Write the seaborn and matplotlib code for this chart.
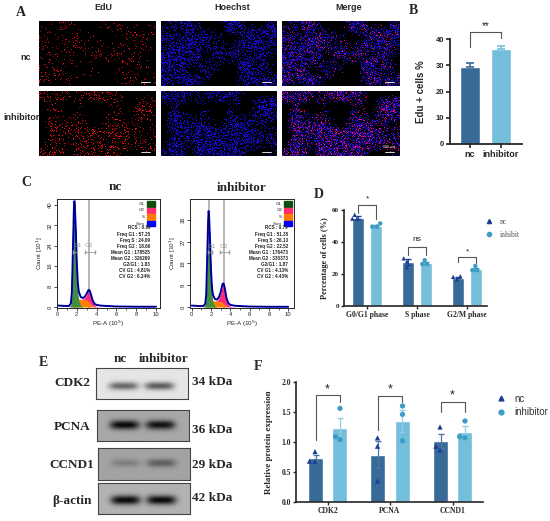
import numpy as np
import pandas as pd
import matplotlib
matplotlib.use("Agg")
import matplotlib.pyplot as plt
import seaborn as sns
from matplotlib.lines import Line2D
from matplotlib.patches import Rectangle

W, H = 550, 521

# ---- B: EdU positive cells
edu_groups = ["nc", "inhibitor"]
edu_mean = [29.4, 36.2]
edu_sem = [1.4, 1.0]

# ---- C: flow cytometry fits, Count [10^1] vs PE-A (10^5)
hist_x = [0.0, 0.4, 0.8, 1.2, 1.4, 1.5, 1.6, 1.7, 1.75, 1.8, 1.9, 2.0, 2.1, 2.2, 2.4, 2.6,
          2.8, 3.0, 3.1, 3.2, 3.3, 3.4, 3.5, 3.6, 3.8, 4.0, 4.5, 5.0, 6.0, 8.0, 10.0]
debris = [0.6, 0.5, 0.4, 0.4, 0.4, 0.4, 0.4, 0.4, 0.4, 0.4, 0.4, 0.4, 0.4, 0.4, 0.4, 0.4,
          0.4, 0.4, 0.4, 0.4, 0.4, 0.4, 0.4, 0.4, 0.5, 0.6, 0.5, 0.4, 0.2, 0.1, 0.1]
nc_g1 = [0, 0, 0, 0, 1.0, 5, 20, 36, 39, 37, 27, 14, 6, 2.5, 0.5, 0,
         0, 0, 0, 0, 0, 0, 0, 0, 0, 0, 0, 0, 0, 0, 0]
nc_s = [0, 0, 0, 0, 0, 0.2, 0.8, 1.6, 2.0, 2.4, 2.8, 3.0, 3.1, 3.1, 3.0, 2.9,
        2.8, 2.6, 2.4, 2.1, 1.6, 1.1, 0.7, 0.4, 0.1, 0, 0, 0, 0, 0, 0]
nc_g2 = [0, 0, 0, 0, 0, 0, 0, 0, 0, 0, 0, 0, 0, 0, 0, 0.2,
         0.8, 2.2, 3.3, 4.2, 4.4, 3.8, 2.8, 1.8, 0.6, 0.2, 0, 0, 0, 0, 0]
inh_g1 = [0, 0, 0, 0, 0.9, 4.5, 19, 34, 37.5, 35, 25, 12, 5, 2, 0.4, 0,
          0, 0, 0, 0, 0, 0, 0, 0, 0, 0, 0, 0, 0, 0, 0]
inh_s = [0, 0, 0, 0, 0, 0.2, 0.7, 1.3, 1.7, 2.0, 2.3, 2.5, 2.6, 2.6, 2.5, 2.4,
         2.3, 2.2, 2.0, 1.7, 1.3, 0.9, 0.6, 0.3, 0.1, 0, 0, 0, 0, 0, 0]
inh_g2 = [0, 0, 0, 0, 0, 0, 0, 0, 0, 0, 0, 0, 0, 0, 0, 0.3,
          1.2, 3.5, 5.6, 7.5, 8.0, 7.0, 5.0, 3.0, 1.0, 0.3, 0, 0, 0, 0, 0]
nc_stats = ["RCS : 0.99", "Freq G1 : 57.25", "Freq S : 24.09", "Freq G2 : 18.66",
            "Mean G1 : 178525", "Mean G2 : 326269", "G2/G1 : 1.83", "CV G1 : 4.81%", "CV G2 : 6.24%"]
inh_stats = ["RCS : 0.79", "Freq G1 : 51.35", "Freq S : 26.13", "Freq G2 : 22.52",
             "Mean G1 : 176473", "Mean G2 : 330373", "G2/G1 : 1.87", "CV G1 : 4.13%", "CV G2 : 4.43%"]
fit_names = ["G1", "G2", "S", "Sum"]

# ---- D: cell cycle distribution
phases = ["G0/G1 phase", "S phase", "G2/M phase"]
phase_groups = ["nc", "inhibit"]
phase_mean_nc = [55.2, 27.5, 17.8]
phase_mean_inh = [50.2, 26.8, 23.2]
phase_sem_nc = [0.8, 1.6, 0.6]
phase_sem_inh = [0.6, 0.7, 0.8]
phase_pts_nc = [[57.0, 54.6, 54.6], [29.8, 24.2, 27.8], [16.6, 18.6, 18.2]]
phase_pts_inh = [[51.6, 49.6, 49.6], [28.6, 26.2, 26.2], [25.0, 22.4, 22.4]]
phase_sig = ["*", "ns", "*"]

# ---- E: western blots
blot_proteins = ["CDK2", "PCNA", "CCND1", "β-actin"]
blot_kda = ["34 kDa", "36 kDa", "29 kDa", "42 kDa"]
blot_band_nc = [0.55, 0.95, 0.22, 0.95]
blot_band_inh = [0.6, 0.9, 0.42, 0.95]
blot_background = [0.90, 0.66, 0.64, 0.70]

# ---- F: relative protein expression
proteins = ["CDK2", "PCNA", "CCND1"]
prot_groups = ["nc", "inhibitor"]
prot_mean_nc = [0.73, 0.79, 1.02]
prot_mean_inh = [1.23, 1.35, 1.17]
prot_sem_nc = [0.06, 0.22, 0.12]
prot_sem_inh = [0.17, 0.18, 0.09]
prot_pts_nc = [[0.84, 0.68, 0.68], [1.07, 0.93, 0.35], [1.25, 0.87, 0.93]]
prot_pts_inh = [[1.56, 1.04, 1.09], [1.60, 1.46, 1.02], [1.35, 1.07, 1.09]]
prot_sig = ["*", "*", "*"]

NC_BAR, INH_BAR = "#386a98", "#73bfdb"
NC_PT, INH_PT = "#1c3f94", "#3d9cc6"
SANS = ["Liberation Sans", "DejaVu Sans"]
SERIF = ["Liberation Serif", "DejaVu Serif"]

sns.set_style("ticks")
plt.rcParams["font.family"] = SANS
plt.rcParams["axes.linewidth"] = 1.0

fig = plt.figure(figsize=(W / 100, H / 100), dpi=100)


def axes_px(l, t, r, b):
    return fig.add_axes([l / W, 1 - b / H, (r - l) / W, (b - t) / H])


def text_px(x, y, s, **kw):
    fig.text(x / W, 1 - y / H, s, **kw)


def ylabel_at(ax, xpx):
    pos = ax.get_position()
    ax.yaxis.set_label_coords((xpx / W - pos.x0) / pos.width, 0.5)


def bracket(ax, x0, x1, y0, y1, top, label, fs, dy):
    ax.plot([x0, x0, x1, x1], [y0, top, top, y1], color="#555555", lw=0.8, clip_on=False)
    ax.text((x0 + x1) / 2, top + dy, label, ha="center", va="center", fontsize=fs,
            color="#222222", clip_on=False)


# panel letters
for lab, x, y in [("A", 21, 12), ("B", 413, 10), ("C", 26, 183), ("D", 319, 194),
                  ("E", 43, 362), ("F", 258, 366)]:
    text_px(x, y, lab, family=SERIF, weight="bold", size=10, ha="center", va="center")

# ---------------- A: fluorescence images (texture only)
rng = np.random.default_rng(11)


def smooth_field(h, w, gh=5, gw=9):
    low = rng.random((gh, gw))
    yi = np.linspace(0, gh - 1, h)
    xi = np.linspace(0, gw - 1, w)
    y0 = np.clip(np.floor(yi).astype(int), 0, gh - 2)
    x0 = np.clip(np.floor(xi).astype(int), 0, gw - 2)
    fy = (yi - y0)[:, None]
    fx = (xi - x0)[None, :]
    a = low[y0][:, x0]
    b = low[y0][:, x0 + 1]
    c = low[y0 + 1][:, x0]
    d = low[y0 + 1][:, x0 + 1]
    return a * (1 - fy) * (1 - fx) + b * (1 - fy) * fx + c * fy * (1 - fx) + d * fy * fx


col_lr = [(39, 156), (161, 277), (282, 400)]
row_tb = [(21, 86), (91, 156)]
edu_density = [0.09, 0.18]
for r, (t, b) in enumerate(row_tb):
    h, w = b - t, col_lr[0][1] - col_lr[0][0]
    mask = np.clip((smooth_field(h, w) - 0.2) / 0.35, 0, 1)
    hoe = (rng.random((h, w)) < 0.5 * mask) * rng.uniform(0.35, 1.0, (h, w))
    edu = (rng.random((h, w)) < edu_density[r] * mask) * rng.uniform(0.5, 1.0, (h, w))
    imgs = [
        np.dstack([edu, 0.06 * edu, 0.1 * edu]),
        np.dstack([0.12 * hoe, 0.06 * hoe, hoe]),
        np.dstack([np.maximum(edu, 0.12 * hoe), 0.06 * hoe, np.maximum(0.95 * hoe, 0.6 * edu)]),
    ]
    for c, (l, rr) in enumerate(col_lr):
        ax = axes_px(l, t, rr, b)
        ax.imshow(np.clip(imgs[c], 0, 1), aspect="auto", interpolation="nearest")
        ax.plot([0.87, 0.95], [0.06, 0.06], color="white", lw=0.6, transform=ax.transAxes)
        ax.set_axis_off()
    if r == 1:
        ax.text(0.91, 0.12, "200 μm", color="white", fontsize=2.5, ha="center",
                transform=ax.transAxes)

for s, x in zip(["EdU", "Hoechst", "Merge"], [103, 232, 349]):
    text_px(x, 8, s, weight="bold", size=6.5, ha="center", va="center")
text_px(26, 57, "nc", weight="bold", size=6.5, ha="center", va="center")
text_px(21, 117, "inhibitor", weight="bold", size=6.5, ha="center", va="center")

# ---------------- B: EdU+ bar chart
axB = axes_px(450, 39, 522, 144)
sns.barplot(x=edu_groups, y=edu_mean, hue=edu_groups, palette=[NC_BAR, INH_BAR],
            width=0.645, saturation=1, legend=False, ax=axB)
for i, (m, e, c) in enumerate(zip(edu_mean, edu_sem, [NC_BAR, INH_BAR])):
    axB.errorbar(i, m, yerr=[[0], [e]], fmt="none", ecolor=c, elinewidth=1.2,
                 capsize=3, capthick=1.2)
axB.set_xlim(-0.645, 1.68)
axB.set_ylim(0, 40)
axB.set_yticks([0, 10, 20, 30, 40])
sns.despine(ax=axB)
for sp in ["left", "bottom"]:
    axB.spines[sp].set_linewidth(1.3)
axB.tick_params(length=3, width=1.2, pad=1)
axB.tick_params(axis="y", labelsize=5.5)
axB.tick_params(axis="x", labelsize=6.5)
for lbl in axB.get_xticklabels() + axB.get_yticklabels():
    lbl.set_fontweight("bold")
axB.set_ylabel("Edu + cells %", fontsize=7, fontweight="bold")
ylabel_at(axB, 426)
bracket(axB, 0, 1, 36.8, 40.3, 42.7, "**", 7, 2.4)

# ---------------- C: cell cycle histograms
FILL_G1, FILL_S, FILL_G2 = "#3f8f3f", "#ff8000", "#ff2a78"
BOX_COLORS = ["#0d4f0d", "#ff2d6f", "#ff7a00", "#0000ff"]


def flow_panel(ax, g1, s, g2, stats, yticks, ylim, xlim, gates, gate_y, dx):
    x = np.array(hist_x)
    g1, s, g2, deb = np.array(g1), np.array(s), np.array(g2), np.array(debris)
    total = g1 + s + g2 + deb
    ax.fill_between(x, 0, s, color=FILL_S, lw=0)
    ax.fill_between(x, 0, g1, color=FILL_G1, lw=0)
    ax.fill_between(x, s, s + g2, color=FILL_G2, lw=0)
    sns.lineplot(x=x, y=total, color="#0000ff", lw=1.4, ax=ax)
    sns.lineplot(x=x, y=total, color="black", lw=0.5, ax=ax)
    for gx in gates:
        ax.axvline(gx, color="#b0b0b0", lw=1.3, zorder=0.5)
    ax.text(gates[0] + 0.3, gate_y + 1.8, "G1", color="#999999", fontsize=4.5, ha="center")
    ax.text(gates[1], gate_y + 1.8, "G2", color="#999999", fontsize=4.5, ha="center")
    ax.errorbar([gates[1] + 0.1], [gate_y], xerr=[[0.5], [0.5]], fmt="none",
                ecolor="#999999", elinewidth=0.6, capsize=1.5)
    ax.errorbar([gates[0] + 0.05], [gate_y], xerr=[[0.2], [0.2]], fmt="none",
                ecolor="#999999", elinewidth=0.6, capsize=1.5)
    ax.set_xlim(*xlim)
    ax.set_ylim(*ylim)
    ax.set_xticks([0, 2, 4, 6, 8, 10])
    ax.set_xticks(np.arange(1, 11, 2), minor=True)
    ax.set_yticks(yticks)
    ax.tick_params(length=2, width=0.6, labelsize=4.2, pad=1)
    ax.tick_params(which="minor", length=1.2, width=0.5)
    for lbl in ax.get_yticklabels():
        lbl.set_rotation(90)
        lbl.set_va("center")
    for sp in ax.spines.values():
        sp.set_linewidth(0.7)
    ax.set_xlabel("PE-A (10$^5$)", fontsize=4.5, labelpad=1)
    ax.set_ylabel("Count [10$^1$]", fontsize=4.5, labelpad=2)
    for k, (name, col) in enumerate(zip(fit_names, BOX_COLORS)):
        y = 0.93 - 0.06 * k
        ax.add_patch(Rectangle((0.87 + dx, y), 0.08, 0.05, color=col, transform=ax.transAxes))
        ax.text(0.85 + dx, y + 0.025, name, fontsize=3.2, ha="right", va="center",
                transform=ax.transAxes)
    for k, line in enumerate(stats):
        ax.text(0.905 + dx, 0.734 - 0.056 * k, line, fontsize=3.3, ha="right", va="center",
                fontweight="bold", color="#222222", transform=ax.transAxes)


axC1 = axes_px(57, 199, 160, 308)
flow_panel(axC1, nc_g1, nc_s, nc_g2, nc_stats, [0, 8, 16, 24, 32, 40], (-0.4, 42.3),
           (0, 10.4), (1.8, 3.25), 21.6, 0.0)
axC2 = axes_px(190, 199, 294, 308)
flow_panel(axC2, inh_g1, inh_s, inh_g2, inh_stats, [0, 9, 18, 27, 36], (-0.4, 44.6),
           (-0.18, 10.6), (1.8, 3.3), 22.6, 0.035)
text_px(115, 187, "nc", family=SERIF, weight="bold", size=9.5, ha="center", va="center")
text_px(242, 188, "inhibitor", family=SERIF, weight="bold", size=9.5, ha="center", va="center")

# ---------------- D: percentage of cells per phase
axD = axes_px(344, 210, 487, 306)
dfD = pd.DataFrame({"phase": phases * 2,
                    "group": [phase_groups[0]] * 3 + [phase_groups[1]] * 3,
                    "pct": phase_mean_nc + phase_mean_inh})
sns.barplot(data=dfD, x="phase", y="pct", hue="group", hue_order=phase_groups, order=phases,
            palette=[NC_BAR, INH_BAR], width=0.72, gap=0.3, saturation=1, errorbar=None,
            legend=False, ax=axD)
rowsD = []
for ph, a, b in zip(phases, phase_pts_nc, phase_pts_inh):
    rowsD += [(ph, phase_groups[0], v) for v in a] + [(ph, phase_groups[1], v) for v in b]
ptsD = pd.DataFrame(rowsD, columns=["phase", "group", "pct"])
for i, (mn, se, mi, si) in enumerate(zip(phase_mean_nc, phase_sem_nc, phase_mean_inh, phase_sem_inh)):
    axD.errorbar(i - 0.18, mn, yerr=se, fmt="none", ecolor=NC_PT, elinewidth=0.7, capsize=2)
    axD.errorbar(i + 0.18, mi, yerr=si, fmt="none", ecolor=INH_PT, elinewidth=0.7, capsize=2)
for grp, mk, col in zip(phase_groups, ["^", "o"], [NC_PT, INH_PT]):
    sns.swarmplot(data=ptsD[ptsD["group"] == grp], x="phase", y="pct", hue="group",
                  hue_order=phase_groups, order=phases, dodge=True, marker=mk, size=3.2,
                  palette={g: col for g in phase_groups}, legend=False, zorder=4, ax=axD)
axD.set_xlim(-0.46, 2.40)
axD.set_ylim(0, 60)
axD.set_yticks([0, 20, 40, 60])
axD.set_xlabel("")
axD.set_ylabel("Percentage of cells (%)", family=SERIF, fontsize=6, fontweight="bold")
ylabel_at(axD, 329)
sns.despine(ax=axD)
for sp in ["left", "bottom"]:
    axD.spines[sp].set_linewidth(1.2)
axD.tick_params(length=2.5, width=1.0, labelsize=5, pad=1)
axD.tick_params(axis="x", labelsize=5.5)
for lbl in axD.get_xticklabels() + axD.get_yticklabels():
    lbl.set_fontfamily(SERIF)
    lbl.set_fontweight("bold")
bracket(axD, -0.18, 0.18, 58.0, 54.4, 63.1, phase_sig[0], 6, 3.6)
bracket(axD, 0.82, 1.18, 31.9, 31.9, 36.9, phase_sig[1], 6, 4.5)
bracket(axD, 1.82, 2.18, 27.7, 26.9, 30.4, phase_sig[2], 6, 3.6)
handlesD = [Line2D([], [], ls="", marker="^", ms=3, color=NC_PT),
            Line2D([], [], ls="", marker="o", ms=3, color=INH_PT)]
legD = axD.legend(handlesD, phase_groups, loc="upper left", frameon=False,
                  bbox_to_anchor=(482 / W, 1 - 214 / H), bbox_transform=fig.transFigure,
                  handlelength=0.8, handletextpad=1.0, labelspacing=0.7, borderpad=0,
                  prop={"family": SERIF, "size": 5.5})
for t in legD.get_texts():
    t.set_color("#555555")

# ---------------- E: western blots (band images)
blot_boxes = [(96, 368, 188, 399), (97, 410, 189, 441), (98, 448, 190, 480), (98, 483, 190, 514)]
band_y = [0.58, 0.48, 0.47, 0.55]
band_h = [0.13, 0.15, 0.13, 0.15]
label_y = [383, 427, 465, 501]
kda_y = [382, 430, 465, 498]
for k, (l, t, r, b) in enumerate(blot_boxes):
    ax = axes_px(l, t, r, b)
    hh, ww = (b - t) * 3, (r - l) * 3
    yy = np.linspace(0, 1, hh)[:, None]
    xx = np.linspace(0, 1, ww)[None, :]
    img = blot_background[k] + rng.normal(0, 0.015, (hh, ww))
    for cx, amp in [(0.30, blot_band_nc[k]), (0.69, blot_band_inh[k])]:
        prof = np.exp(-((xx - cx) / 0.16) ** 4) * np.exp(-((yy - band_y[k]) / band_h[k]) ** 2)
        img = img - amp * prof * blot_background[k]
    ax.imshow(np.clip(img, 0, 1), cmap="gray", vmin=0, vmax=1, aspect="auto")
    ax.set_xticks([])
    ax.set_yticks([])
    for sp in ax.spines.values():
        sp.set_color("#444444")
        sp.set_linewidth(0.8)
    text_px(72, label_y[k], blot_proteins[k], family=SERIF, weight="bold", size=9.5,
            ha="center", va="center")
    text_px(192, kda_y[k], blot_kda[k], family=SERIF, weight="bold", size=9.5,
            ha="left", va="center")
text_px(120, 359, "nc", family=SERIF, weight="bold", size=9.5, ha="center", va="center")
text_px(164, 359, "inhibitor", family=SERIF, weight="bold", size=9.5, ha="center", va="center")

# ---------------- F: relative protein expression
axF = axes_px(296, 382, 483, 502)
dfF = pd.DataFrame({"protein": proteins * 2,
                    "group": [prot_groups[0]] * 3 + [prot_groups[1]] * 3,
                    "expr": prot_mean_nc + prot_mean_inh})
sns.barplot(data=dfF, x="protein", y="expr", hue="group", hue_order=prot_groups, order=proteins,
            palette=[NC_BAR, INH_BAR], width=0.77, gap=0.377, saturation=1, errorbar=None,
            legend=False, ax=axF)
rowsF = []
for p, a, b in zip(proteins, prot_pts_nc, prot_pts_inh):
    rowsF += [(p, prot_groups[0], v) for v in a] + [(p, prot_groups[1], v) for v in b]
ptsF = pd.DataFrame(rowsF, columns=["protein", "group", "expr"])
for i, (mn, se, mi, si) in enumerate(zip(prot_mean_nc, prot_sem_nc, prot_mean_inh, prot_sem_inh)):
    axF.errorbar(i - 0.192, mn, yerr=se, fmt="none", ecolor="#4a78a6", elinewidth=0.9, capsize=2.5)
    axF.errorbar(i + 0.192, mi, yerr=si, fmt="none", ecolor="#8fd0e6", elinewidth=0.9, capsize=2.5)
for grp, mk, col in zip(prot_groups, ["^", "o"], [NC_PT, INH_PT]):
    sns.swarmplot(data=ptsF[ptsF["group"] == grp], x="protein", y="expr", hue="group",
                  hue_order=prot_groups, order=proteins, dodge=True, marker=mk, size=3.8,
                  palette={g: col for g in prot_groups}, legend=False, zorder=4, ax=axF)
axF.set_xlim(-0.504, 2.488)
axF.set_ylim(0, 2.0)
axF.set_yticks([0, 0.5, 1.0, 1.5, 2.0])
axF.set_yticklabels(["0.0", "0.5", "1.0", "1.5", "2.0"])
axF.set_xlabel("")
axF.set_ylabel("Relative protein expression", family=SERIF, fontsize=6.5, fontweight="bold")
ylabel_at(axF, 273)
sns.despine(ax=axF)
for sp in ["left", "bottom"]:
    axF.spines[sp].set_linewidth(1.2)
axF.tick_params(length=2.5, width=1.0, labelsize=5.5, pad=1)
for lbl in axF.get_xticklabels() + axF.get_yticklabels():
    lbl.set_fontfamily(SERIF)
    lbl.set_fontweight("bold")
bracket(axF, -0.192, 0.192, 1.03, 1.67, 1.78, prot_sig[0], 9, 0.1)
bracket(axF, 0.808, 1.192, 1.2, 1.67, 1.77, prot_sig[1], 9, 0.1)
bracket(axF, 1.808, 2.192, 1.5, 1.5, 1.67, prot_sig[2], 9, 0.1)
handlesF = [Line2D([], [], ls="", marker="^", ms=3.5, color=NC_PT),
            Line2D([], [], ls="", marker="o", ms=3.5, color=INH_PT)]
legF = axF.legend(handlesF, prot_groups, loc="upper left", frameon=False,
                  bbox_to_anchor=(492 / W, 1 - 389 / H), bbox_transform=fig.transFigure,
                  handlelength=0.8, handletextpad=1.0, labelspacing=0.35, borderpad=0,
                  prop={"family": SANS, "size": 7})
for t in legF.get_texts():
    t.set_color("#333333")

fig.savefig("out.png", dpi=100, facecolor="white")
